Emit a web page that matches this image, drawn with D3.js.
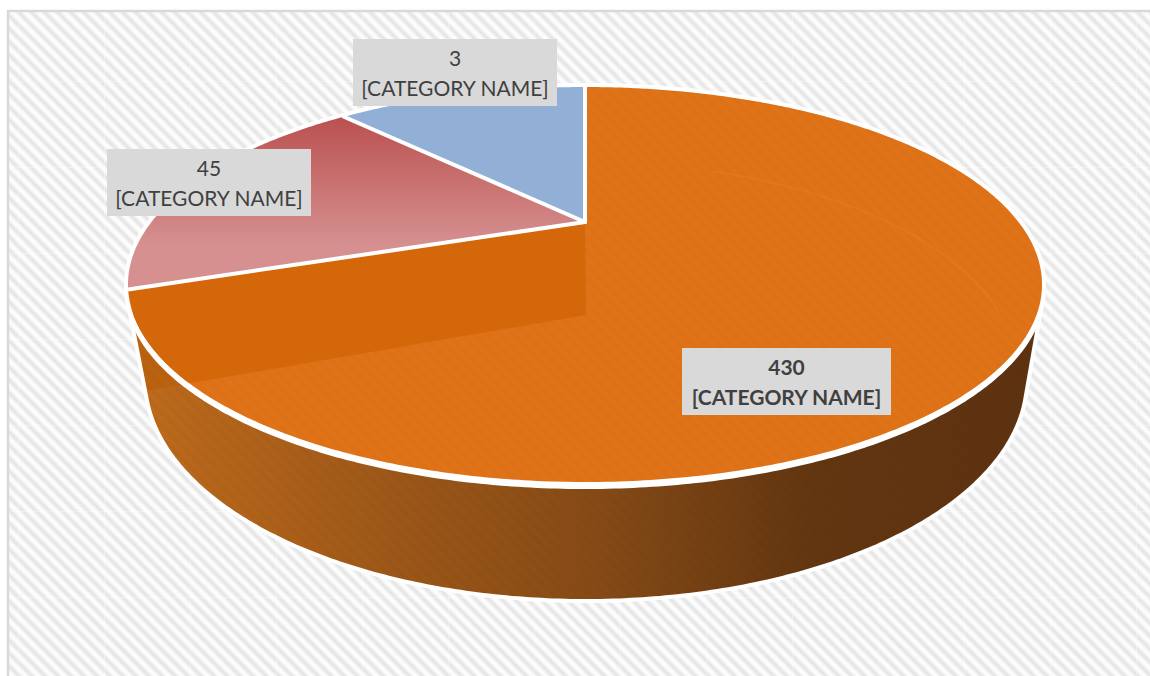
<!DOCTYPE html>
<html>
<head>
<meta charset="utf-8">
<script src="https://cdn.jsdelivr.net/npm/d3@7"></script>
<style>
  html, body { margin: 0; padding: 0; background: #fff; }
  svg { display: block; }
  text { font-family: Lato, "Open Sans", sans-serif; }
</style>
</head>
<body>
<svg id="chart" width="1150" height="676"></svg>
<script>
// the printed numbers do not match the drawn angles, so the slice shares are read off the picture
const categories = ["[CATEGORY NAME]", "[CATEGORY NAME]", "[CATEGORY NAME]"];
const labelValues = [430, 45, 3];
const sliceShares = [69.5, 18.5, 12];
const sliceColors = ["#e07318", "url(#redFade)", "#92b0d6"];

const width = 1150, height = 676;
const svg = d3.select("#chart");
const defs = svg.append("defs");

// background hatch, soft edged stripes
const stripe = defs.append("linearGradient")
    .attr("id", "stripe")
    .attr("x1", 0).attr("x2", 0).attr("y1", 0).attr("y2", 1);
stripe.append("stop").attr("offset", 0.1).attr("stop-color", "#fdfdfd");
stripe.append("stop").attr("offset", 0.5).attr("stop-color", "#e2e2e2");
stripe.append("stop").attr("offset", 0.9).attr("stop-color", "#fdfdfd");

const hatch = defs.append("pattern")
    .attr("id", "hatch")
    .attr("patternUnits", "userSpaceOnUse")
    .attr("width", 9.2)
    .attr("height", 9.2)
    .attr("patternTransform", "rotate(45)");
hatch.append("rect").attr("width", 9.2).attr("height", 9.2).attr("fill", "url(#stripe)");

// same stripes, very faint, over the orange parts
const sheen = defs.append("pattern")
    .attr("id", "sheen")
    .attr("patternUnits", "userSpaceOnUse")
    .attr("width", 9.2)
    .attr("height", 9.2)
    .attr("patternTransform", "rotate(45)");
sheen.append("rect").attr("width", 9.2).attr("height", 4.6).attr("fill", "#000").attr("opacity", 0.02);

// the texture tiles leave pale seams
const seams = defs.append("pattern")
    .attr("id", "seams")
    .attr("patternUnits", "userSpaceOnUse")
    .attr("width", 86)
    .attr("height", 86);
seams.append("rect").attr("x", 18).attr("width", 1).attr("height", 86).attr("fill", "#fff").attr("opacity", 0.3);
seams.append("rect").attr("y", 81).attr("width", 86).attr("height", 1).attr("fill", "#fff").attr("opacity", 0.3);

const redFade = defs.append("linearGradient")
    .attr("id", "redFade")
    .attr("gradientUnits", "userSpaceOnUse")
    .attr("x1", 0).attr("x2", 0).attr("y1", 117).attr("y2", 245);
redFade.append("stop").attr("offset", 0).attr("stop-color", "#ba5150");
redFade.append("stop").attr("offset", 1).attr("stop-color", "#d69090");

const wallFade = defs.append("linearGradient")
    .attr("id", "wallFade")
    .attr("gradientUnits", "userSpaceOnUse")
    .attr("x1", 135).attr("x2", 1040).attr("y1", 0).attr("y2", 0);
wallFade.append("stop").attr("offset", 0).attr("stop-color", "#bf6b1c");
wallFade.append("stop").attr("offset", 0.29).attr("stop-color", "#9c5718");
wallFade.append("stop").attr("offset", 0.51).attr("stop-color", "#864a16");
wallFade.append("stop").attr("offset", 0.75).attr("stop-color", "#623610");
wallFade.append("stop").attr("offset", 1).attr("stop-color", "#5e3211");

svg.append("rect")
    .attr("x", 8).attr("y", 11)
    .attr("width", width + 20).attr("height", height + 20)
    .attr("fill", "url(#hatch)")
    .attr("stroke", "#d9d9d9")
    .attr("stroke-width", 2.5);
svg.append("rect")
    .attr("x", 9).attr("y", 12)
    .attr("width", width).attr("height", height)
    .attr("fill", "url(#seams)");

// perspective view of a flat circle: near side is stretched, far side squashed
function makeLevel(cx, cy, farY, nearY, halfWidth) {
    const up = cy - farY, down = nearY - cy;
    const k = (down - up) / (down + up);
    const a = up * (1 + k);
    const r = halfWidth * Math.sqrt(1 - k * k);
    const level = function(angle) {
        const u = Math.sin(angle), v = -Math.cos(angle);
        const w = 1 - k * v;
        return [cx + r * u / w, cy + a * v / w];
    };
    level.apex = [cx, cy];
    return level;
}
const topRim = makeLevel(585, 222, 87, 482, 457);
const haloRim = makeLevel(585, 223, 86, 489, 461);
const lowRim = makeLevel(586, 315, 160, 599, 439);
const glowRim = makeLevel(585, 369, 162, 576, 430);

const outline = d3.line();
const tau = Math.PI * 2;

function rimPoints(level, start, end) {
    const n = Math.ceil(Math.abs(end - start) / 0.01);
    return d3.range(n + 1).map(i => level(start + (end - start) * i / n));
}
function wedgePath(level, arcData) {
    const pts = rimPoints(level, arcData.startAngle, arcData.endAngle);
    return outline([level.apex, ...pts]) + "Z";
}

const arcs = d3.pie().sort(null).value(d => d)(sliceShares);
const orange = arcs[0];

// outer wall
const hull = d3.polygonHull([
    ...rimPoints(topRim, 0, tau),
    ...rimPoints(lowRim, 0, tau)
]);
const hullPath = outline(hull) + "Z";
defs.append("clipPath").attr("id", "hullClip")
    .append("path").attr("d", hullPath);
svg.append("path")
    .attr("d", hullPath)
    .attr("fill", "url(#wallFade)")
    .attr("stroke", "#fff")
    .attr("stroke-width", 8)
    .attr("paint-order", "stroke");

// cut face of the orange slice, seen where it drops below the red slice
const faceTop = topRim(orange.endAngle), faceLow = lowRim(orange.endAngle);
const facePath = outline([topRim.apex, faceTop, faceLow, lowRim.apex]) + "Z";
svg.append("path")
    .attr("d", facePath)
    .attr("fill", "#bb620f")
    .attr("clip-path", "url(#hullClip)");
svg.append("path")
    .attr("d", hullPath)
    .attr("fill", "url(#sheen)");

// white edge round the top, thicker at the front
svg.append("path")
    .attr("d", outline(rimPoints(haloRim, 0, tau)) + "Z")
    .attr("fill", "#fff");

// slices
svg.selectAll("path.slice")
    .data(arcs)
    .join("path")
    .attr("class", "slice")
    .attr("d", d => wedgePath(topRim, d))
    .attr("fill", (d, i) => sliceColors[i]);

defs.append("clipPath").attr("id", "orangeClip")
    .append("path").attr("d", wedgePath(topRim, orange));
svg.append("path")
    .attr("d", wedgePath(topRim, orange))
    .attr("fill", "url(#sheen)");
svg.append("path")
    .attr("d", facePath)
    .attr("fill", "#d5670b")
    .attr("clip-path", "url(#orangeClip)");

// faint highlight on the orange top
svg.append("path")
    .attr("d", outline(rimPoints(glowRim, 0.3, 1.3)))
    .attr("fill", "none")
    .attr("stroke", "#f09a50")
    .attr("stroke-opacity", 0.14)
    .attr("stroke-width", 2);

// white lines between the slices
svg.selectAll("path.edge")
    .data(arcs)
    .join("path")
    .attr("class", "edge")
    .attr("d", d => outline([topRim.apex, topRim(d.startAngle)]))
    .attr("fill", "none")
    .attr("stroke", "#fff")
    .attr("stroke-width", 4)
    .attr("stroke-linecap", "round");

// labels, same order as the data
const labelCenters = [[786.5, 381.5], [209, 182.5], [455, 72.5]];
const labelWidths = [209, 204, 204];
const labelHeight = 67;
const labels = svg.selectAll("g.label")
    .data(labelValues)
    .join("g")
    .attr("class", "label")
    .attr("transform", (d, i) => "translate(" + labelCenters[i] + ")");
labels.append("rect")
    .attr("x", (d, i) => -labelWidths[i] / 2)
    .attr("y", -labelHeight / 2)
    .attr("width", (d, i) => labelWidths[i])
    .attr("height", labelHeight)
    .attr("fill", "#d9d9d9");
labels.append("text")
    .attr("text-anchor", "middle")
    .attr("y", -7)
    .attr("fill", "#404040")
    .attr("font-size", 21)
    .attr("font-weight", (d, i) => i === 0 ? 700 : 400)
    .text(d => d);
labels.append("text")
    .attr("text-anchor", "middle")
    .attr("y", 23)
    .attr("fill", "#404040")
    .attr("font-size", 21)
    .attr("font-weight", (d, i) => i === 0 ? 700 : 400)
    .text((d, i) => categories[i]);
</script>
</body>
</html>
